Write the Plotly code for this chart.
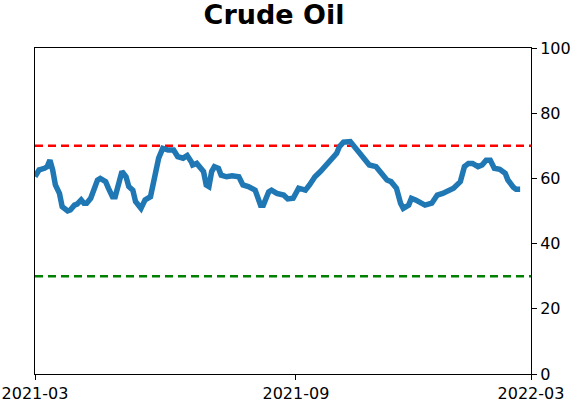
import plotly.graph_objects as go

dates = [
    "2021-03-01", "2021-03-04", "2021-03-08", "2021-03-10", "2021-03-12", "2021-03-14",
    "2021-03-16", "2021-03-19", "2021-03-21", "2021-03-25", "2021-03-27", "2021-03-30",
    "2021-04-01", "2021-04-04", "2021-04-06", "2021-04-08", "2021-04-11", "2021-04-13",
    "2021-04-16", "2021-04-18", "2021-04-22", "2021-04-24", "2021-04-27", "2021-04-29",
    "2021-05-02", "2021-05-04", "2021-05-07", "2021-05-09", "2021-05-12", "2021-05-14",
    "2021-05-18", "2021-05-21", "2021-05-25", "2021-05-28", "2021-05-31", "2021-06-03",
    "2021-06-07", "2021-06-11", "2021-06-14", "2021-06-18", "2021-06-21", "2021-06-24",
    "2021-06-25", "2021-06-28", "2021-06-30", "2021-07-03", "2021-07-05", "2021-07-07",
    "2021-07-09", "2021-07-11", "2021-07-14", "2021-07-16", "2021-07-20", "2021-07-24",
    "2021-07-29", "2021-08-01", "2021-08-05", "2021-08-10", "2021-08-14", "2021-08-16",
    "2021-08-20", "2021-08-22", "2021-08-26", "2021-08-31", "2021-09-03", "2021-09-07",
    "2021-09-11", "2021-09-16", "2021-09-19", "2021-09-23", "2021-09-27", "2021-10-02",
    "2021-10-05", "2021-10-09", "2021-10-11", "2021-10-14", "2021-10-19", "2021-10-22",
    "2021-10-26", "2021-10-29", "2021-11-02", "2021-11-07", "2021-11-11", "2021-11-15",
    "2021-11-18", "2021-11-22", "2021-11-25", "2021-11-27", "2021-12-01", "2021-12-03",
    "2021-12-06", "2021-12-13", "2021-12-18", "2021-12-22", "2021-12-26", "2021-12-30",
    "2022-01-03", "2022-01-08", "2022-01-11", "2022-01-14", "2022-01-17", "2022-01-21",
    "2022-01-24", "2022-01-27", "2022-01-30", "2022-02-02", "2022-02-06", "2022-02-10",
    "2022-02-12", "2022-02-16", "2022-02-18", "2022-02-21",
]

values = [
    60.6, 62.6, 63.1, 63.6, 65.6, 62.6,
    58.0, 55.4, 51.3, 50.0, 50.3, 51.8,
    52.1, 53.4, 52.4, 52.4, 53.9, 55.9,
    59.5, 60.0, 59.0, 57.0, 54.4, 54.4,
    59.0, 62.1, 60.5, 57.5, 56.4, 52.9,
    50.8, 53.4, 54.4, 61.0, 66.2, 69.2,
    68.7, 68.7, 66.7, 66.2, 67.0, 65.1,
    64.1, 64.6, 63.6, 62.1, 58.0, 57.5,
    62.1, 63.6, 63.1, 61.0, 60.5, 60.8,
    60.5, 58.0, 57.5, 56.4, 51.8, 51.8,
    55.9, 56.4, 55.4, 54.9, 53.7, 53.9,
    57.0, 56.4, 58.0, 60.5, 62.1, 64.6,
    65.6, 67.7, 69.7, 71.1, 71.3, 69.7,
    67.7, 65.6, 64.1, 63.6, 61.6, 59.5,
    59.0, 57.0, 52.4, 50.8, 51.8, 53.9,
    53.4, 51.8, 52.4, 54.9, 55.4, 56.4,
    57.0, 59.0, 63.6, 64.6, 64.6, 63.6,
    64.1, 65.6, 65.6, 63.1, 62.8, 61.6,
    59.5, 57.3, 56.7, 56.7,
]

upper_level = 70
lower_level = 30

x_range = ["2021-03-01", "2022-03-01"]
x_tickvals = ["2021-03-01", "2021-09-09", "2022-03-01"]
x_ticktext = ["2021-03", "2021-09", "2022-03"]
y_tickvals = [0, 20, 40, 60, 80, 100]

fig = go.Figure()
fig.add_trace(go.Scatter(
    x=dates, y=values, mode="lines",
    line=dict(color="#1f77b4", width=5.5),
    showlegend=False, hoverinfo="skip",
))

fig.add_shape(type="line", xref="paper", x0=0, x1=1, yref="y", y0=upper_level, y1=upper_level,
              line=dict(color="#ff0000", width=2.5, dash="8px,5px"), layer="below")
fig.add_shape(type="line", xref="paper", x0=0, x1=1, yref="y", y0=lower_level, y1=lower_level,
              line=dict(color="#008000", width=2.5, dash="8px,5px"), layer="below")

fig.update_layout(
    width=572, height=402,
    margin=dict(l=35, r=41, t=48, b=28, autoexpand=False),
    paper_bgcolor="white", plot_bgcolor="white",
    font=dict(family="DejaVu Sans", size=16, color="black"),
    title=dict(text="<b>Crude Oil</b>", font=dict(family="DejaVu Sans", size=27, color="black"),
               x=274 / 572, xanchor="center", xref="container",
               y=1 - 15 / 402, yanchor="middle", yref="container"),
)
fig.update_xaxes(
    type="date", range=x_range, automargin=False,
    tickmode="array", tickvals=x_tickvals, ticktext=x_ticktext,
    ticks="outside", ticklen=5, tickwidth=1, tickcolor="black",
    showline=True, linecolor="black", linewidth=1, mirror=True,
    showgrid=False, zeroline=False,
)
fig.update_yaxes(
    range=[0, 100], side="right", automargin=False,
    tickmode="array", tickvals=y_tickvals,
    ticks="outside", ticklen=5, tickwidth=1, tickcolor="black",
    showline=True, linecolor="black", linewidth=1, mirror=True,
    showgrid=False, zeroline=False,
)

fig.write_html(
    "out.html",
    config={"displayModeBar": False},
    post_script="document.body.style.margin='0';document.body.style.padding='0';",
)
